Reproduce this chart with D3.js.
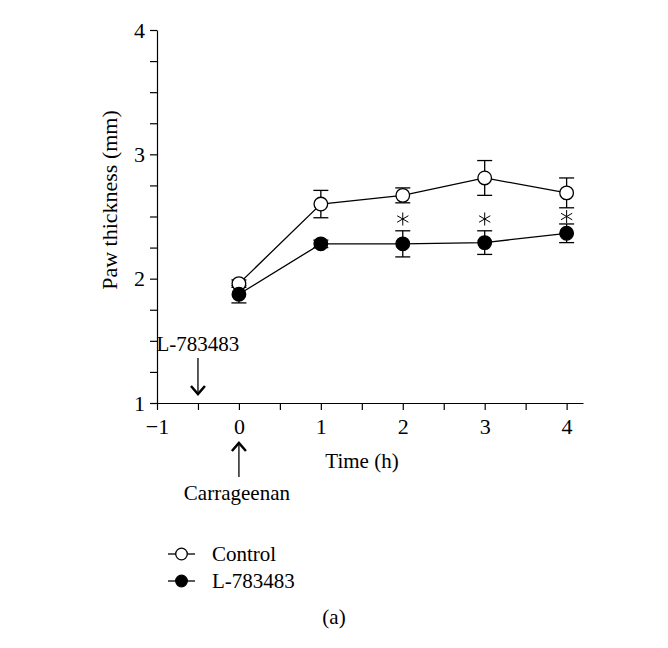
<!DOCTYPE html>
<html>
<head>
<meta charset="utf-8">
<script src="https://cdn.jsdelivr.net/npm/d3@7"></script>
<style>
  body { margin: 0; background: #fff; }
  text { font-family: "Liberation Serif", "Times New Roman", serif; fill: #000; }
</style>
</head>
<body>
<svg id="chart" width="668" height="648"></svg>
<script>
var times = [0, 1, 2, 3, 4];
var controlMean = [1.96, 2.60, 2.67, 2.81, 2.69];
var controlSem = [0.03, 0.11, 0.06, 0.14, 0.12];
var drugMean = [1.875, 2.28, 2.28, 2.29, 2.365];
var drugSem = [0.07, 0.03, 0.105, 0.095, 0.075];
var starTimes = [2, 3, 4];
var starLevel = [2.48, 2.48, 2.50];
var xTicks = [-1, 0, 1, 2, 3, 4];
var yTicks = [1, 2, 3, 4];

var svg = d3.select("#chart");

var x = d3.scaleLinear().domain([-1, 4.2]).range([157, 583]);
var y = d3.scaleLinear().domain([1, 4]).range([403, 30]);

var series = [
  {name: "Control", mean: controlMean, sem: controlSem, fill: "#fff"},
  {name: "L-783483", mean: drugMean, sem: drugSem, fill: "#000"}
];

var fmt = d3.format("d");

// x axis
var xAxis = svg.append("g")
    .attr("transform", "translate(0," + y(1) + ")")
    .call(d3.axisBottom(x).tickValues(d3.range(-1, 4.01, 0.5)).tickSize(7).tickSizeOuter(0)
      .tickFormat(d => xTicks.indexOf(d) >= 0 ? fmt(d) : ""));
xAxis.selectAll("text").attr("font-size", 22).attr("dy", "0.95em");

// y axis
var yAxis = svg.append("g")
    .attr("transform", "translate(" + x(-1) + ",0)")
    .call(d3.axisLeft(y).tickValues(d3.range(1, 4.01, 0.25)).tickSize(7).tickSizeOuter(0)
      .tickFormat(d => yTicks.indexOf(d) >= 0 ? fmt(d) : ""));
yAxis.selectAll("text").attr("font-size", 22).attr("x", -12);

svg.selectAll(".domain, .tick line").attr("stroke", "#000").attr("stroke-width", 1.2);

svg.append("text")
    .attr("x", 362).attr("y", 468)
    .attr("text-anchor", "middle").attr("font-size", 21)
    .text("Time (h)");

svg.append("text")
    .attr("transform", "translate(117,200) rotate(-90)")
    .attr("text-anchor", "middle").attr("font-size", 22)
    .text("Paw thickness (mm)");

// series
var line = d3.line().x((d, i) => x(times[i])).y(d => y(d));

series.forEach(function(s) {
  svg.append("path")
      .datum(s.mean)
      .attr("d", line)
      .attr("fill", "none").attr("stroke", "#000").attr("stroke-width", 1.3);

  var eb = svg.append("g").selectAll("g")
      .data(s.mean).enter().append("g");
  eb.append("line")
      .attr("x1", (d, i) => x(times[i])).attr("x2", (d, i) => x(times[i]))
      .attr("y1", (d, i) => y(d + s.sem[i])).attr("y2", (d, i) => y(d - s.sem[i]))
      .attr("stroke", "#000").attr("stroke-width", 1.3);
  [1, -1].forEach(function(sign) {
    eb.append("line")
        .attr("x1", (d, i) => x(times[i]) - 7.5).attr("x2", (d, i) => x(times[i]) + 7.5)
        .attr("y1", (d, i) => y(d + sign * s.sem[i])).attr("y2", (d, i) => y(d + sign * s.sem[i]))
        .attr("stroke", "#000").attr("stroke-width", 1.3);
  });
});

series.forEach(function(s) {
  svg.append("g").selectAll("circle")
      .data(s.mean).enter().append("circle")
      .attr("cx", (d, i) => x(times[i]))
      .attr("cy", d => y(d))
      .attr("r", 6.8)
      .attr("fill", s.fill).attr("stroke", "#000").attr("stroke-width", 1.3);
});

// significance stars
var stars = svg.append("g").selectAll("g")
    .data(starTimes).enter().append("g")
    .attr("transform", (d, i) => "translate(" + x(d) + "," + y(starLevel[i]) + ")");
[90, 30, 150].forEach(function(a) {
  var r = a * Math.PI / 180, len = 6.5;
  stars.append("line")
      .attr("x1", Math.cos(r) * len).attr("y1", -Math.sin(r) * len)
      .attr("x2", -Math.cos(r) * len).attr("y2", Math.sin(r) * len)
      .attr("stroke", "#000").attr("stroke-width", 1);
});

// treatment arrows
function arrow(xv, y1, y2) {
  var dir = y2 > y1 ? -1 : 1;
  svg.append("line")
      .attr("x1", x(xv)).attr("x2", x(xv)).attr("y1", y1).attr("y2", y2)
      .attr("stroke", "#000").attr("stroke-width", 1.3);
  svg.append("path")
      .attr("d", "M" + (x(xv) - 7) + "," + (y2 + dir * 8) + "L" + x(xv) + "," + y2 + "L" + (x(xv) + 7) + "," + (y2 + dir * 8))
      .attr("fill", "none").attr("stroke", "#000").attr("stroke-width", 2.5);
}
arrow(-0.5, 358, 394);
arrow(0, 477, 443);

svg.append("text")
    .attr("x", x(-0.5)).attr("y", 351)
    .attr("text-anchor", "middle").attr("font-size", 21)
    .text("L-783483");
svg.append("text")
    .attr("x", x(0) - 2).attr("y", 500)
    .attr("text-anchor", "middle").attr("font-size", 21)
    .text("Carrageenan");

// legend
var legend = svg.append("g").attr("transform", "translate(168,554)");
series.forEach(function(s, i) {
  var row = legend.append("g").attr("transform", "translate(0," + (i * 27) + ")");
  row.append("line").attr("x1", 0).attr("x2", 27).attr("stroke", "#000").attr("stroke-width", 1.3);
  row.append("circle").attr("cx", 13.5).attr("r", 5.8)
      .attr("fill", s.fill).attr("stroke", "#000").attr("stroke-width", 1.3);
  row.append("text").attr("x", 44).attr("y", 7).attr("font-size", 21).text(s.name);
});

svg.append("text")
    .attr("x", 334).attr("y", 624)
    .attr("text-anchor", "middle").attr("font-size", 21)
    .text("(a)");
</script>
</body>
</html>
